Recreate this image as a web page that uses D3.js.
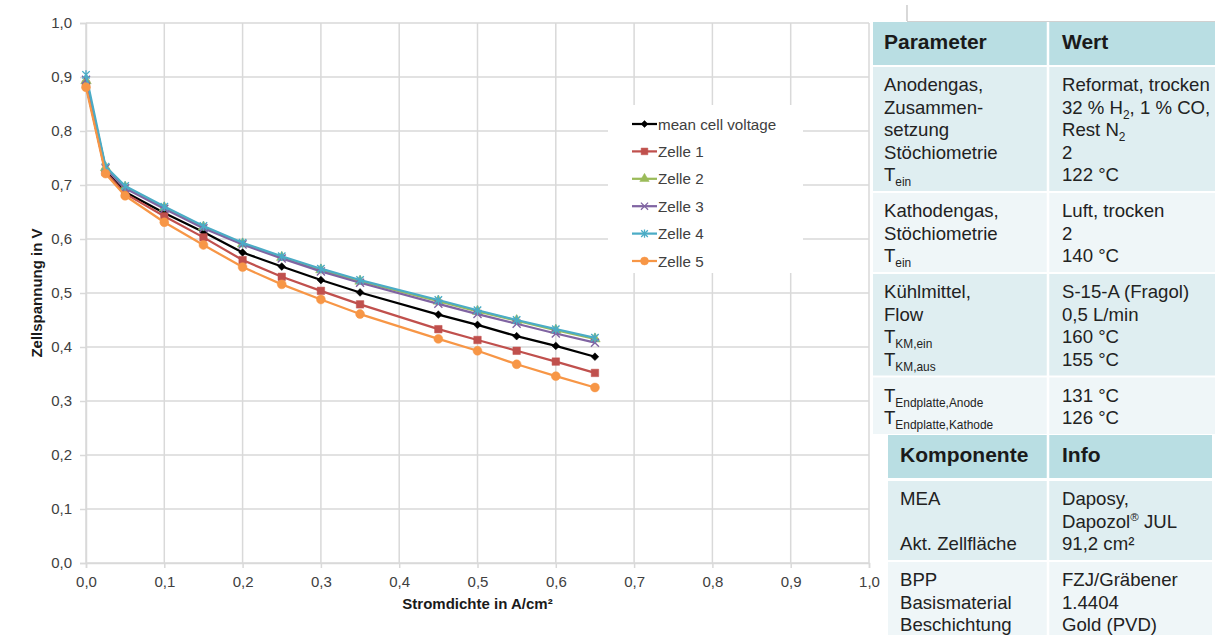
<!DOCTYPE html>
<html>
<head>
<meta charset="utf-8">
<script src="https://cdn.jsdelivr.net/npm/d3@7"></script>
<style>
  body { margin: 0; background: #fff; }
  svg { display: block; }
  text { font-family: "Liberation Sans", Arial, Helvetica, sans-serif; }
</style>
</head>
<body>
<svg id="chart" width="1215" height="635"></svg>
<script>
// Polarisation curve data: current density in A/cm², voltages in V
const currentDensity = [0, 0.025, 0.05, 0.1, 0.15, 0.2, 0.25, 0.3, 0.35, 0.45, 0.5, 0.55, 0.6, 0.65];
const meanCellVoltage = [0.887, 0.726, 0.687, 0.648, 0.613, 0.575, 0.549, 0.524, 0.501, 0.460, 0.441, 0.420, 0.402, 0.382];
const zelle1 = [0.886, 0.724, 0.684, 0.642, 0.603, 0.561, 0.530, 0.504, 0.479, 0.433, 0.413, 0.393, 0.373, 0.352];
const zelle2 = [0.893, 0.732, 0.696, 0.658, 0.622, 0.591, 0.566, 0.543, 0.522, 0.485, 0.466, 0.449, 0.431, 0.415];
const zelle3 = [0.895, 0.731, 0.694, 0.656, 0.620, 0.590, 0.564, 0.540, 0.519, 0.480, 0.461, 0.443, 0.425, 0.408];
const zelle4 = [0.904, 0.734, 0.698, 0.660, 0.624, 0.593, 0.568, 0.545, 0.524, 0.487, 0.468, 0.450, 0.433, 0.417];
const zelle5 = [0.881, 0.721, 0.680, 0.631, 0.589, 0.548, 0.516, 0.488, 0.461, 0.415, 0.393, 0.368, 0.346, 0.325];
const seriesNames = ["mean cell voltage", "Zelle 1", "Zelle 2", "Zelle 3", "Zelle 4", "Zelle 5"];
const xTicks = [0, 0.1, 0.2, 0.3, 0.4, 0.5, 0.6, 0.7, 0.8, 0.9, 1.0];
const yTicks = [0, 0.1, 0.2, 0.3, 0.4, 0.5, 0.6, 0.7, 0.8, 0.9, 1.0];
const xTitle = "Stromdichte in A/cm²";
const yTitle = "Zellspannung in V";

// Operating parameters (markup: _{..} subscript, ^{..} superscript)
const paramHeader = ["Parameter", "Wert"];
const paramLeft = [
  ["Anodengas,", "Zusammen-", "setzung", "Stöchiometrie", "T_{ein}"],
  ["Kathodengas,", "Stöchiometrie", "T_{ein}"],
  ["Kühlmittel,", "Flow", "T_{KM,ein}", "T_{KM,aus}"],
  ["T_{Endplatte,Anode}", "T_{Endplatte,Kathode}"]
];
const paramRight = [
  ["Reformat, trocken", "32 % H_{2}, 1 % CO,", "Rest N_{2}", "2", "122 °C"],
  ["Luft, trocken", "2", "140 °C"],
  ["S-15-A (Fragol)", "0,5 L/min", "160 °C", "155 °C"],
  ["131 °C", "126 °C"]
];
const compHeader = ["Komponente", "Info"];
const compLeft = [
  ["MEA", "", "Akt. Zellfläche"],
  ["BPP", "Basismaterial", "Beschichtung"]
];
const compRight = [
  ["Daposy,", "Dapozol^{®} JUL", "91,2 cm²"],
  ["FZJ/Gräbener", "1.4404", "Gold (PVD)"]
];

// ---------- chart ----------
const svg = d3.select("#chart");
const x = d3.scaleLinear().domain([0, 1]).range([86, 869]);
const y = d3.scaleLinear().domain([0, 1]).range([563, 23]);
const fmt = d => d3.format(".1f")(d).replace(".", ",");
const gridColor = "#D9D9D9";
const labelColor = "#404040";

const grid = svg.append("g");
grid.selectAll("line.v").data(xTicks).join("line").attr("class", "v")
  .attr("x1", d => x(d)).attr("x2", d => x(d)).attr("y1", y(0)).attr("y2", y(1))
  .attr("stroke", gridColor).attr("stroke-width", 1.5);
grid.selectAll("line.h").data(yTicks).join("line").attr("class", "h")
  .attr("x1", x(0)).attr("x2", x(1)).attr("y1", d => y(d)).attr("y2", d => y(d))
  .attr("stroke", gridColor).attr("stroke-width", 1.5);

const yAxis = svg.append("g").attr("transform", `translate(${x(0)},0)`)
  .call(d3.axisLeft(y).tickValues(yTicks).tickFormat(fmt).tickSize(6).tickPadding(8));
const xAxis = svg.append("g").attr("transform", `translate(0,${y(0)})`)
  .call(d3.axisBottom(x).tickValues(xTicks).tickFormat(fmt).tickSize(5).tickPadding(8));
[xAxis, yAxis].forEach(a => {
  a.select(".domain").attr("stroke", gridColor).attr("stroke-width", 1.5);
  a.selectAll(".tick line").attr("stroke", gridColor).attr("stroke-width", 1.5);
  a.selectAll(".tick text").attr("fill", labelColor).attr("font-size", 15)
    .attr("font-family", '"Liberation Sans", Arial, sans-serif');
});

svg.append("text").attr("x", (x(0) + x(1)) / 2).attr("y", 609)
  .attr("text-anchor", "middle").attr("font-size", 15).attr("font-weight", "bold")
  .attr("fill", "#1a1a1a").text(xTitle);
svg.append("text").attr("transform", `translate(42,${(y(0) + y(1)) / 2}) rotate(-90)`)
  .attr("text-anchor", "middle").attr("font-size", 15).attr("font-weight", "bold")
  .attr("fill", "#1a1a1a").text(yTitle);

// Excel-style star marker: an x with a vertical stroke
const symbolStar = {
  draw(ctx, size) {
    const r = Math.sqrt(size) * 0.6;
    const d = r * 0.8;
    ctx.moveTo(-d, -d); ctx.lineTo(d, d);
    ctx.moveTo(-d, d); ctx.lineTo(d, -d);
    ctx.moveTo(0, -r); ctx.lineTo(0, r);
  }
};
const diamond = {
  draw(ctx, size) {
    const r = Math.sqrt(size) / 2 * Math.SQRT2;
    ctx.moveTo(0, -r); ctx.lineTo(r, 0); ctx.lineTo(0, r); ctx.lineTo(-r, 0); ctx.closePath();
  }
};

const seriesValues = [meanCellVoltage, zelle1, zelle2, zelle3, zelle4, zelle5];
const seriesStyle = [
  { color: "#000000", type: diamond, size: 30, filled: true },
  { color: "#C0504D", type: d3.symbolSquare, size: 56, filled: true },
  { color: "#9BBB59", type: d3.symbolTriangle, size: 48, filled: true },
  { color: "#8064A2", type: d3.symbolX, size: 44, filled: false },
  { color: "#4BACC6", type: symbolStar, size: 60, filled: false },
  { color: "#F79646", type: d3.symbolCircle, size: 62, filled: true }
];

const line = d3.line().x((d, i) => x(currentDensity[i])).y(d => y(d));
const plot = svg.append("g");
seriesValues.forEach((vals, s) => {
  const st = seriesStyle[s];
  const g = plot.append("g");
  g.append("path").attr("d", line(vals)).attr("fill", "none")
    .attr("stroke", st.color).attr("stroke-width", 2.25).attr("stroke-linejoin", "round");
  g.selectAll("path.m").data(vals).join("path").attr("class", "m")
    .attr("transform", (d, i) => `translate(${x(currentDensity[i])},${y(d)})`)
    .attr("d", d3.symbol().type(st.type).size(st.size))
    .attr("fill", st.filled ? st.color : "none")
    .attr("stroke", st.color).attr("stroke-width", st.filled ? 0.5 : 1.4);
});

// legend
const legend = svg.append("g");
legend.append("rect").attr("x", 608).attr("y", 105).attr("width", 195).attr("height", 168).attr("fill", "#fff");
seriesNames.forEach((name, s) => {
  const st = seriesStyle[s];
  const ly = 124 + s * 27.4;
  legend.append("line").attr("x1", 632).attr("x2", 657).attr("y1", ly).attr("y2", ly)
    .attr("stroke", st.color).attr("stroke-width", 2.25);
  legend.append("path").attr("transform", `translate(644.5,${ly})`)
    .attr("d", d3.symbol().type(st.type).size(st.size * 0.8))
    .attr("fill", st.filled ? st.color : "none")
    .attr("stroke", st.color).attr("stroke-width", st.filled ? 0.5 : 1.3);
  legend.append("text").attr("x", 658).attr("y", ly + 5.5).attr("font-size", 15.2)
    .attr("fill", labelColor).text(name);
});

// ---------- parameter tables ----------
const textColor = "#222222";
const bodySize = 18.6;
function richText(sel, str, size) {
  const parts = str.split(/(_\{[^}]*\}|\^\{[^}]*\})/).filter(p => p.length);
  let shift = 0;
  parts.forEach(p => {
    let content = p, target = 0, fs = size;
    if (p.startsWith("_{")) { content = p.slice(2, -1); target = 5; fs = size * 0.64; }
    else if (p.startsWith("^{")) { content = p.slice(2, -1); target = -7; fs = size * 0.62; }
    sel.append("tspan").attr("dy", target - shift).attr("font-size", fs).text(content);
    shift = target;
  });
}

function drawTable(opts) {
  const g = svg.append("g");
  const { left, right, x0, x1, xDiv, top, header, lefts, rights } = opts;
  const headH = 43, lineH = 22.5, firstOff = 24, bottomPad = 10, gap = 2;
  g.append("rect").attr("x", x0).attr("y", top).attr("width", x1 - x0).attr("height", headH).attr("fill", "#B9DEE3");
  g.append("text").attr("x", lefts).attr("y", top + 27).attr("font-size", 21).attr("font-weight", "bold")
    .attr("fill", "#1a1a1a").text(header[0]);
  g.append("text").attr("x", rights).attr("y", top + 27).attr("font-size", 21).attr("font-weight", "bold")
    .attr("fill", "#1a1a1a").text(header[1]);
  let yy = top + headH + gap + opts.firstGap;
  left.forEach((rows, r) => {
    const n = Math.max(rows.length, right[r].length);
    const h = firstOff + (n - 1) * lineH + bottomPad;
    g.append("rect").attr("x", x0).attr("y", yy).attr("width", x1 - x0).attr("height", h)
      .attr("fill", r % 2 === 0 ? "#DFEEF1" : "#EFF6F8");
    rows.forEach((t, k) => {
      if (!t) return;
      const tx = g.append("text").attr("x", lefts).attr("y", yy + firstOff + k * lineH)
        .attr("font-size", bodySize).attr("fill", textColor);
      richText(tx, t, bodySize);
    });
    right[r].forEach((t, k) => {
      const tx = g.append("text").attr("x", rights).attr("y", yy + firstOff + k * lineH)
        .attr("font-size", bodySize).attr("fill", textColor);
      richText(tx, t, bodySize);
    });
    yy += h + gap;
  });
  // white column separator
  g.append("line").attr("x1", xDiv).attr("x2", xDiv).attr("y1", top).attr("y2", yy)
    .attr("stroke", "#fff").attr("stroke-width", 2.5);
}

// thin frame lines at the top right
svg.append("line").attr("x1", 907).attr("x2", 907).attr("y1", 5).attr("y2", 21)
  .attr("stroke", "#BFBFBF").attr("stroke-width", 1.2);
svg.append("line").attr("x1", 907).attr("x2", 1215).attr("y1", 21.5).attr("y2", 21.5)
  .attr("stroke", "#D0D0D0").attr("stroke-width", 1);

drawTable({ left: paramLeft, right: paramRight, header: paramHeader,
  x0: 873, x1: 1215, xDiv: 1048, top: 22, lefts: 884, rights: 1062, firstGap: 0 });
drawTable({ left: compLeft, right: compRight, header: compHeader,
  x0: 888, x1: 1212, xDiv: 1048, top: 435, lefts: 900, rights: 1062, firstGap: 1 });
</script>
</body>
</html>
